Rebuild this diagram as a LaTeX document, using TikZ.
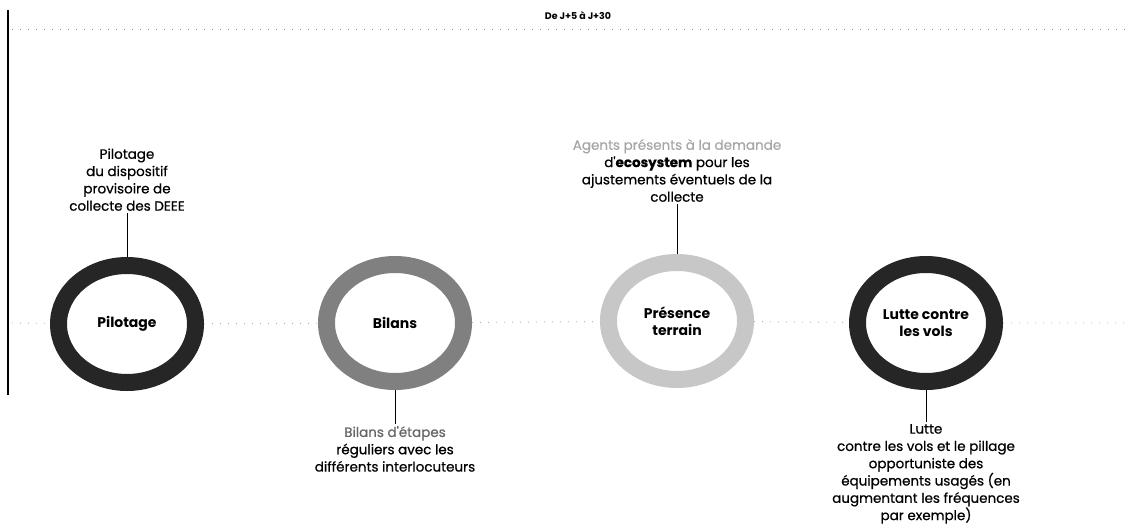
\documentclass[tikz,border=0pt]{standalone}
\usepackage{fontspec}
\setmainfont{Poppins}
\newfontfamily\notefont{Poppins}[FakeBold=0.6]
\usetikzlibrary{positioning,shapes.geometric}

\begin{document}
\begin{tikzpicture}[x=1pt, y=-1pt,
  ring/.style = {shape=ellipse, line width=17pt, minimum width=137pt,
    minimum height=117pt, inner sep=0pt, align=center,
    font=\fontsize{14}{17}\selectfont\bfseries},
  note/.style = {align=center, inner sep=2pt,
    font=\notefont\fontsize{13.5}{17.3}\selectfont},
  link/.style = {draw, line width=0.8pt},
  trail/.style = {draw=black!30, line width=0.9pt, dash pattern=on 1pt off 7pt}]
  \useasboundingbox (0,0) rectangle (1131,532);
  % frise
  \draw[line width=1.2pt] (8,10) -- (8,395);
  \node (titre) at (578,16) {\fontsize{9.5}{11}\selectfont\bfseries De J+5 à J+30};
  \coordinate (haut-g) at (12,29);
  \coordinate (haut-d) at (1125,29);
  \draw[trail, draw=black!45] (haut-g) -- (haut-d);

  % les quatre etapes
  \node[ring, draw=black!85] (pilotage) at (127,324) {Pilotage};
  \node[ring, draw=black!50] (bilans) at (395,323) {Bilans};
  \node[ring, draw=black!22] (presence) at (677,321) {Présence\\terrain};
  \node[ring, draw=black!85] (lutte) at (926,323) {Lutte contre\\les vols};

  \coordinate (gauche) at (12,323);
  \coordinate (droite) at (1125,323);
  \draw[trail] (gauche) -- (pilotage) (pilotage) -- (bilans)
    (bilans) -- (presence) (presence) -- (lutte) (lutte) -- (droite);

  % commentaires
  \node[note, above=44pt of pilotage.north] (pilotage-txt)
    {Pilotage\\du dispositif\\provisoire de\\collecte des DEEE};
  \node[note, below=34pt of bilans.south] (bilans-txt)
    {{\color{black!60}Bilans d'étapes}\\réguliers avec les\\différents interlocuteurs};
  \node[note, above=50pt of presence.north] (presence-txt)
    {{\color{black!35}Agents présents à la demande}\\d'\textbf{ecosystem} pour les\\ajustements éventuels de la\\collecte};
  \node[note, below=32pt of lutte.south] (lutte-txt)
    {Lutte\\contre les vols et le pillage\\opportuniste des\\équipements usagés (en\\augmentant les fréquences\\par exemple)};

  \draw[link] (pilotage-txt) -- (pilotage);
  \draw[link] (bilans) -- (bilans-txt);
  \draw[link] (presence-txt) -- (presence);
  \draw[link] (lutte) -- (lutte-txt);
\end{tikzpicture}
\end{document}
